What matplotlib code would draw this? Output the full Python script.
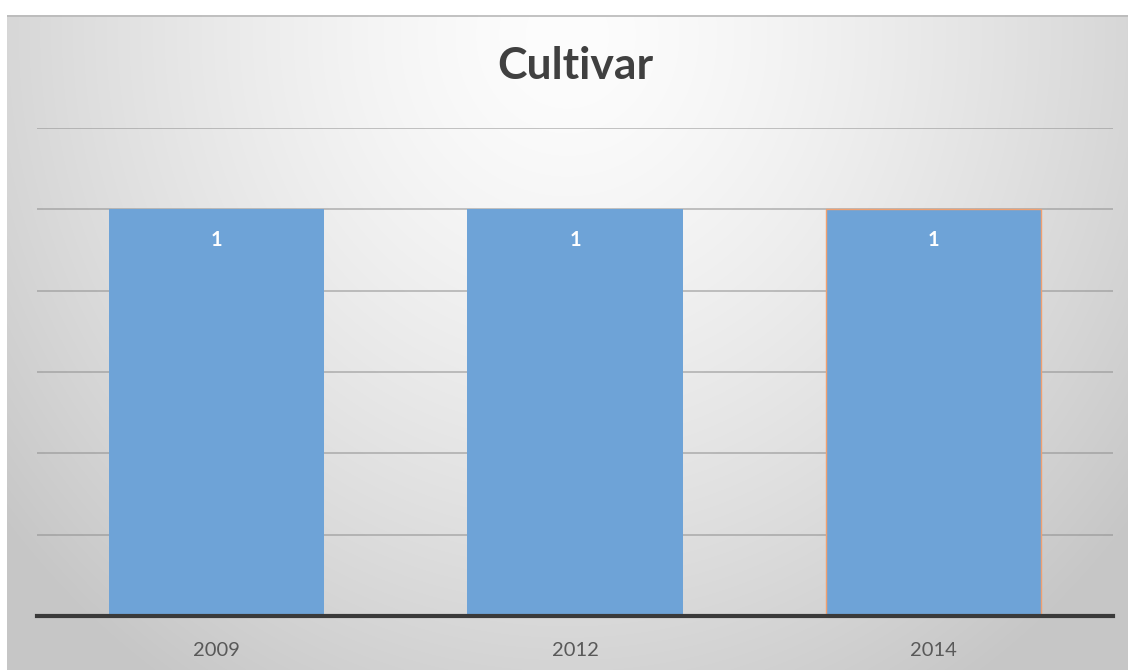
import numpy as np
import matplotlib.pyplot as plt

years = ["2009", "2012", "2014"]
counts = [1, 1, 1]
title = "Cultivar"

plt.rcParams['font.family'] = ['Lato', 'DejaVu Sans']

W, H = 1128, 670
fig = plt.figure(figsize=(W / 100, H / 100), dpi=100)
fig.patch.set_facecolor('white')

# Chart-area background: radial grey gradient, brightest near top centre
bg_left, bg_top = 7, 15
bg = fig.add_axes([bg_left / W, 0, 1 - bg_left / W, (H - bg_top) / H])
bg.set_axis_off()
gw, gh = W - bg_left, H - bg_top
xx, yy = np.meshgrid(np.linspace(0, 1, gw), np.linspace(0, 1, gh))
r = np.sqrt(((xx - 0.5) / 0.65) ** 2 + ((yy - 0.03) / 1.2) ** 2)
shade = np.clip(253 - 55 * r ** 1.4, 198, 253) / 255.0
bg.imshow(np.dstack([shade] * 3), aspect='auto', extent=(0, 1, 1, 0))
bg.set_xlim(0, 1)
bg.set_ylim(1, 0)
bg.plot([0, 1], [0.0015, 0.0015], color='#b8b8b8', lw=1.2)

# Plot area
ax = fig.add_axes([37 / W, (H - 616) / H, (1113 - 37) / W, (616 - 128) / H])
ax.patch.set_alpha(0)
x = np.arange(len(years))
edges = ['none', 'none', '#f0a070']
bars = ax.bar(x, counts, width=0.6, color='#6ea3d7', edgecolor=edges,
              linewidth=1.0, zorder=3)

ax.set_xlim(-0.5, len(years) - 0.5)
ax.set_ylim(0, 1.2)
ax.set_yticks(np.arange(0.2, 1.21, 0.2))
ax.yaxis.grid(True, color='#8c8c8c', alpha=0.55, lw=1.3, zorder=0)
ax.tick_params(axis='y', left=False, labelleft=False)
ax.tick_params(axis='x', bottom=False, labelsize=14.5, labelcolor='#595959', pad=15)
ax.set_xticks(x)
ax.set_xticklabels(years)
for s in ['top', 'right', 'left']:
    ax.spines[s].set_visible(False)
ax.spines['bottom'].set_color('#3a3a3a')
ax.spines['bottom'].set_linewidth(3)
ax.spines['bottom'].set_zorder(4)

for b, v in zip(bars, counts):
    ax.annotate(f"{v}", (b.get_x() + b.get_width() / 2, v), xytext=(0, -22),
                textcoords='offset points', ha='center', va='center',
                color='white', fontsize=14.5, fontweight='bold', zorder=5)

fig.text(575 / W, 1 - 66 / H, title, ha='center', va='center',
         fontsize=32, fontweight='bold', color='#404040')

fig.savefig('out.png', dpi=100)
